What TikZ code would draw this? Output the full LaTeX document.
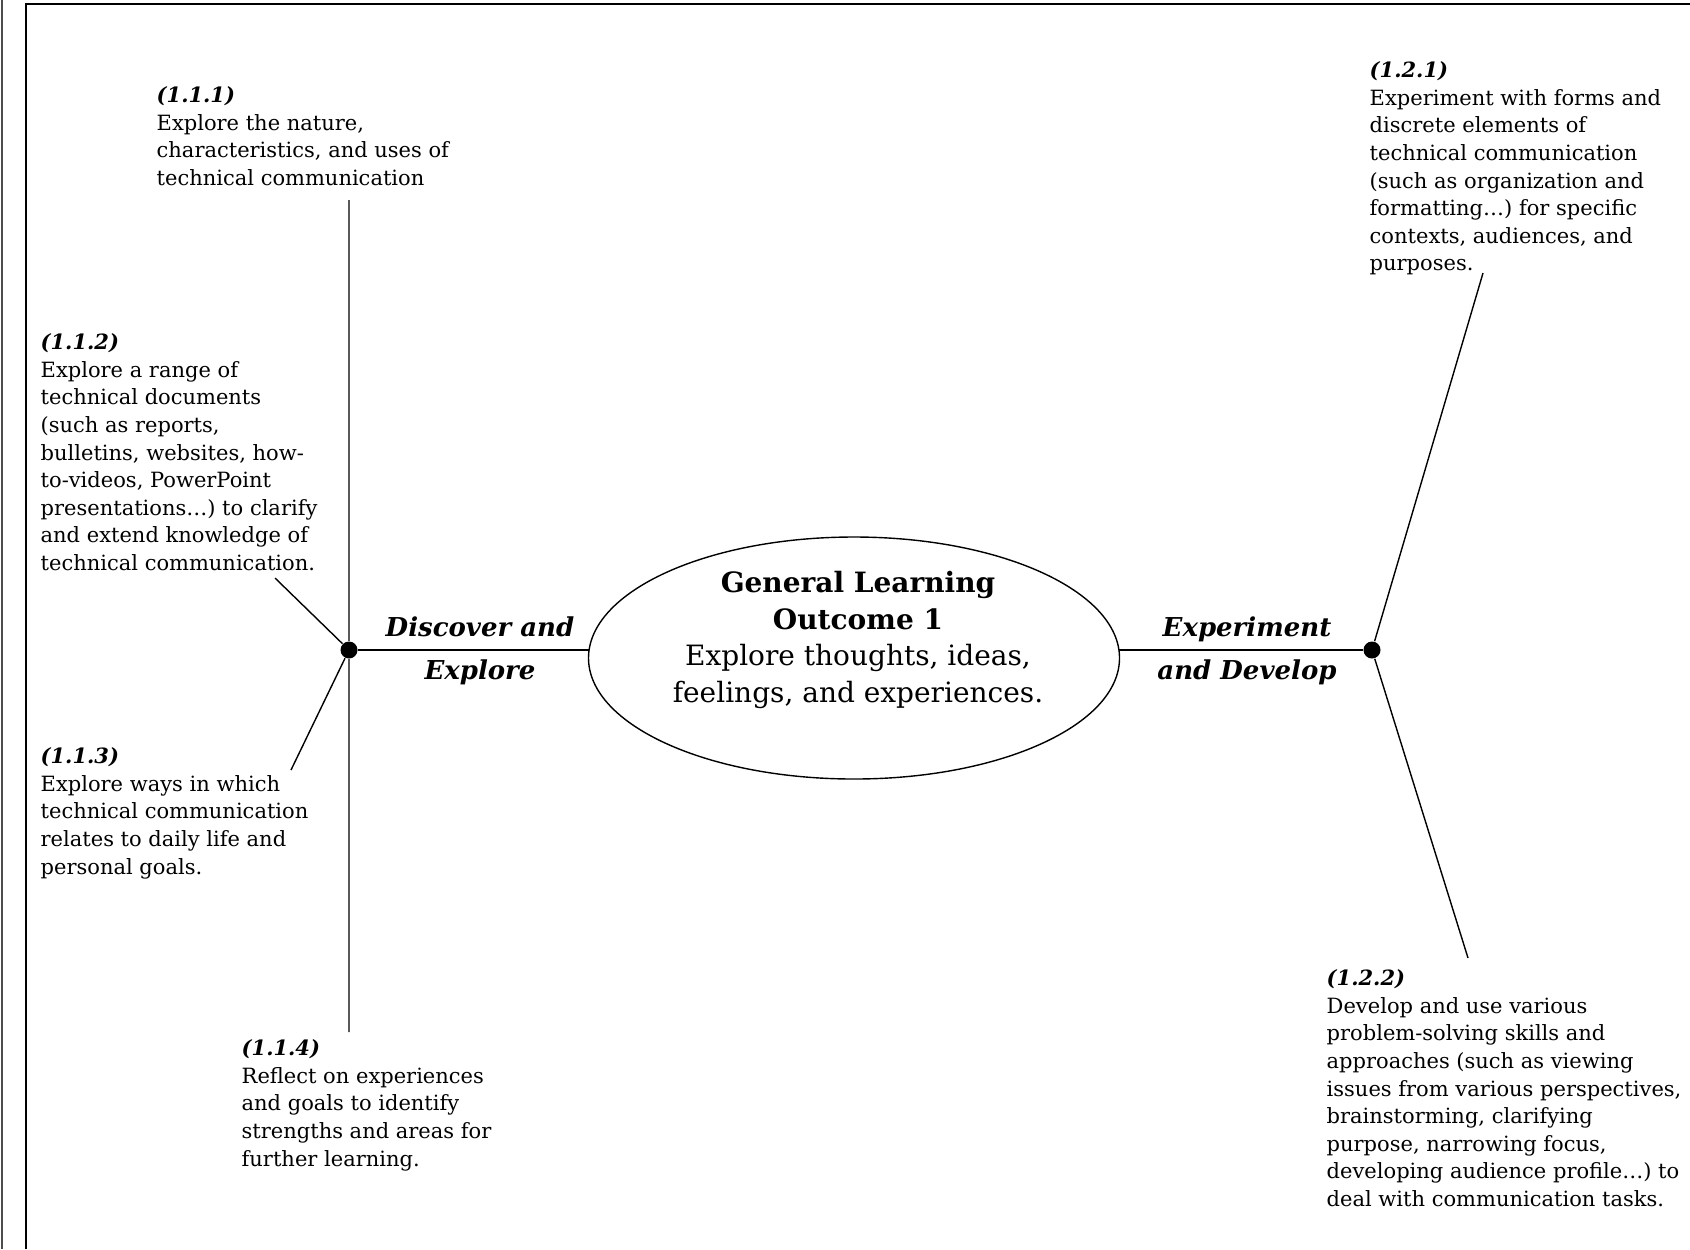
\documentclass[tikz,border=0pt]{standalone}
\usepackage{fontspec}
\setmainfont{DejaVu Serif}
\usetikzlibrary{shapes.geometric}

\tikzset{
  outcome/.style={align=left, anchor=north west, inner sep=0pt,
    font=\fontsize{10.5}{13.8}\selectfont},
  strand/.style={align=center, inner sep=0pt,
    font=\fontsize{13}{21.5}\selectfont\bfseries\itshape},
  hub/.style={circle, fill=black, inner sep=0pt, minimum size=8.5pt},
  spoke/.style={line width=0.7pt},
}
\newcommand{\slo}[1]{\textbf{\textit{#1}}}

\begin{document}
\begin{tikzpicture}[x=0.5pt, y=-0.5pt, line width=0.7pt]
  \useasboundingbox (0,0) rectangle (1690,1249);
  % marco de la página
  \draw[line width=1pt, black!70] (2,0) -- (2,1249);
  \draw[line width=1pt] (26,1249) -- (26,4) -- (1690,4);
  % resultado general (elipse)
  \node[ellipse, draw, minimum width=265.5pt, minimum height=121pt] (glo) at (854,658) {};
  \node[align=center, inner sep=0pt, font=\fontsize{14}{18.4}\selectfont] (glotext) at (858,640)
    {\textbf{General Learning}\\ \textbf{Outcome 1}\\ Explore thoughts, ideas,\\ feelings, and experiences.};
  % nudos
  \node[hub] (discover) at (349,650) {};
  \node[hub] (develop) at (1372,650) {};
  % extremos libres de los radios
  \coordinate (e111) at (349,200);
  \coordinate (e112) at (275,578);
  \coordinate (e113) at (291,770);
  \coordinate (e114) at (349,1032);
  \coordinate (e121) at (1483,273);
  \coordinate (e122) at (1468,958);
  % radios
  \draw[spoke] (discover) -- (e111) (discover) -- (e112) (discover) -- (e113) (discover) -- (e114);
  \draw[spoke] (develop) -- (e121) (develop) -- (e122);
  \draw[spoke] (discover) -- (discover -| glo.178);
  \draw[spoke] (develop) -- (develop -| glo.2);
  % etiquetas de los ejes
  \node[strand] (dlabel) at (480,651) {Discover and\\Explore};
  \node[strand] (xlabel) at (1247,651) {Experiment\\and Develop};
  % resultados específicos
  \node[outcome] (t111) at (156,86) {\slo{(1.1.1)}\\Explore the nature,\\characteristics, and uses of\\technical communication};
  \node[outcome] (t112) at (40,333) {\slo{(1.1.2)}\\Explore a range of\\technical documents\\(such as reports,\\bulletins, websites, how-\\to-videos, PowerPoint\\presentations\dots) to clarify\\and extend knowledge of\\technical communication.};
  \node[outcome] (t113) at (40,747) {\slo{(1.1.3)}\\Explore ways in which\\technical communication\\relates to daily life and\\personal goals.};
  \node[outcome] (t114) at (241,1039) {\slo{(1.1.4)}\\Reflect on experiences\\and goals to identify\\strengths and areas for\\further learning.};
  \node[outcome] (t121) at (1369,61) {\slo{(1.2.1)}\\Experiment with forms and\\discrete elements of\\technical communication\\(such as organization and\\formatting\dots) for specific\\contexts, audiences, and\\purposes.};
  \node[outcome] (t122) at (1326,969) {\slo{(1.2.2)}\\Develop and use various\\problem-solving skills and\\approaches (such as viewing\\issues from various perspectives,\\brainstorming, clarifying\\purpose, narrowing focus,\\developing audience profile\dots) to\\deal with communication tasks.};
\end{tikzpicture}
\end{document}
